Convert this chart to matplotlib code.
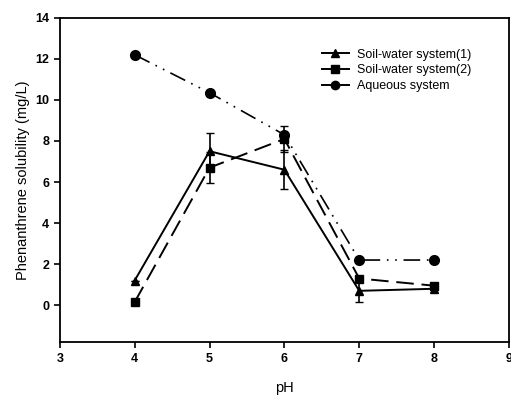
import matplotlib
matplotlib.use("Agg")
import matplotlib.pyplot as plt

plt.rcParams['font.family'] = ['Liberation Sans', 'DejaVu Sans']

ph = [4, 5, 6, 7, 8]
soil1 = [1.2, 7.5, 6.6, 0.7, 0.8]
soil1_err = [0.0, 0.9, 0.95, 0.55, 0.0]
soil2 = [0.15, 6.7, 8.1, 1.3, 0.95]
soil2_err = [0.0, 0.75, 0.65, 0.0, 0.0]
aqueous = [12.2, 10.35, 8.3, 2.2, 2.2]

xticks = [3, 4, 5, 6, 7, 8, 9]
yticks = [0, 2, 4, 6, 8, 10, 12, 14]

fig = plt.figure(figsize=(5.11, 3.96), dpi=100)
ax = fig.add_axes([0.117, 0.136, 0.879, 0.819])

e1 = ax.errorbar(ph, soil1, yerr=soil1_err, color='black', marker='^', ms=6, lw=1.4,
                 capsize=3, elinewidth=1.2)
e2 = ax.errorbar(ph, soil2, yerr=soil2_err, color='black', marker='s', ms=6, lw=1.4,
                 capsize=3, elinewidth=1.2)
e2[0].set_dashes([9, 4])
l3, = ax.plot(ph, aqueous, color='black', marker='o', ms=7, lw=1.2)
l3.set_dashes([10, 4, 1, 4, 1, 4])

ax.set_xlim(3, 9)
ax.set_ylim(-1.8, 14)
ax.set_xticks(xticks)
ax.set_yticks(yticks)
ax.tick_params(direction='out', length=4, width=1.2, labelsize=9)
for lab in ax.get_xticklabels() + ax.get_yticklabels():
    lab.set_fontweight('bold')
for s in ax.spines.values():
    s.set_linewidth(1.3)

ax.set_xlabel('pH', fontsize=10.5, labelpad=12)
ax.set_ylabel('Phenanthrene solubility (mg/L)', fontsize=10.5)

h1 = plt.Line2D([], [], color='black', marker='^', ms=6, lw=1.4)
h2 = plt.Line2D([], [], color='black', marker='s', ms=6, lw=1.4)
h3 = plt.Line2D([], [], color='black', marker='o', ms=6, lw=1.4)
ax.legend([h1, h2, h3], ['Soil-water system(1)', 'Soil-water system(2)', 'Aqueous system'],
          loc='upper right', bbox_to_anchor=(0.94, 0.94), frameon=False,
          fontsize=9, handlelength=2.2, labelspacing=0.3, handletextpad=0.6)

fig.savefig('out.png', dpi=100)
